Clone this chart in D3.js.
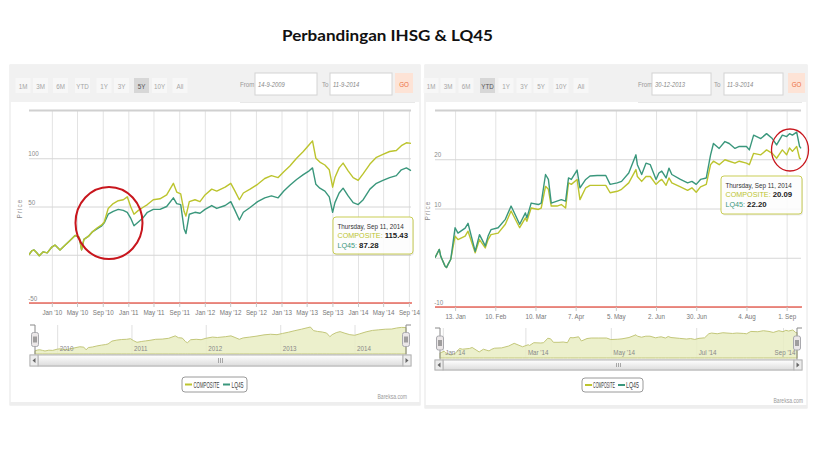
<!DOCTYPE html>
<html><head><meta charset="utf-8">
<script src="https://cdn.jsdelivr.net/npm/d3@7"></script>
<style>
html,body{margin:0;padding:0;background:#fff;}
svg{display:block;font-family:"Liberation Sans",Arial,sans-serif;}
</style></head><body>
<svg id="chart" width="830" height="456"></svg>
<script>
const titleText = "Perbandingan IHSG & LQ45";
const seriesNames = ["COMPOSITE", "LQ45"];
const rangeButtons = ["1M","3M","6M","YTD","1Y","3Y","5Y","10Y","All"];
const creditText = "Bareksa.com";

// ---------- Left chart (5Y) ----------
const leftDates = ["2009-09-14","2009-09-27","2009-10-08","2009-10-21","2009-11-02","2009-11-21","2009-12-10","2010-01-01","2010-01-16","2010-02-09","2010-03-01","2010-03-25","2010-04-22","2010-05-12","2010-05-23","2010-06-03","2010-06-24","2010-07-15","2010-08-06","2010-08-27","2010-09-08","2010-09-27","2010-10-21","2010-11-14","2010-12-08","2010-12-27","2011-01-12","2011-01-28","2011-02-18","2011-03-11","2011-04-02","2011-04-30","2011-06-01","2011-07-03","2011-08-04","2011-08-20","2011-09-08","2011-09-24","2011-10-03","2011-10-19","2011-11-15","2011-12-09","2012-01-02","2012-02-03","2012-02-27","2012-04-07","2012-05-04","2012-05-24","2012-06-14","2012-07-03","2012-08-04","2012-09-09","2012-10-13","2012-11-14","2012-12-16","2013-01-12","2013-02-10","2013-03-14","2013-04-15","2013-05-13","2013-05-29","2013-06-14","2013-07-03","2013-07-27","2013-08-17","2013-09-02","2013-09-13","2013-10-03","2013-10-22","2013-11-15","2013-12-09","2014-01-02","2014-01-26","2014-02-27","2014-03-30","2014-04-30","2014-06-01","2014-07-03","2014-07-27","2014-08-20","2014-09-11"];
const leftComposite = [0,4,5,2,-1,3,2,8,10,5,9,14,20,18,5,16,19,24,28,31,34,48,53,56,57,60,50,42,46,49,52,57,58,62,74,65,63,45,40,55,57,55,62,68,66,70,74,66,57,64,68,73,79,82,80,86,92,100,107,114,118,100,96,93,88,70,80,90,95,87,80,77,84,94,101,104,107,108,113,116,115.43];
const leftLQ45 = [0,4,5,2,-1,3,2,8,10,5,9,14,20,18,5,16,19,24,27,30,33,42,45,47,46,44,38,30,34,38,44,47,47,50,59,53,52,27,22,42,44,43,47,51,48,51,55,46,36,44,49,55,59,61,59,66,72,78,83,87,90,73,69,66,60,44,54,64,69,61,54,52,57,68,74,77,80,82,88,90,87.28];
const leftYTicks = [150, 100, 50, 0, -50];
const leftYLabels = ["", "100", "50", "", "-50"];
const leftXTicks = ["2010-01-01","2010-05-01","2010-09-01","2011-01-01","2011-05-01","2011-09-01","2012-01-01","2012-05-01","2012-09-01","2013-01-01","2013-05-01","2013-09-01","2014-01-01","2014-05-01","2014-09-01"];
const leftXLabels = ["Jan '10","May '10","Sep '10","Jan '11","May '11","Sep '11","Jan '12","May '12","Sep '12","Jan '13","May '13","Sep '13","Jan '14","May '14","Sep '14"];
const leftNavTicks = ["2010-01-01","2011-01-01","2012-01-01","2013-01-01","2014-01-01"];
const leftNavLabels = ["2010","2011","2012","2013","2014"];
const leftInputs = ["14-9-2009", "11-9-2014"];

// ---------- Right chart (YTD) ----------
const rightDates = ["2013-12-30","2014-01-02","2014-01-03","2014-01-06","2014-01-07","2014-01-08","2014-01-10","2014-01-13","2014-01-15","2014-01-20","2014-01-22","2014-01-27","2014-01-30","2014-02-03","2014-02-05","2014-02-07","2014-02-12","2014-02-17","2014-02-21","2014-02-27","2014-03-03","2014-03-04","2014-03-07","2014-03-12","2014-03-14","2014-03-17","2014-03-19","2014-03-21","2014-03-25","2014-03-28","2014-03-31","2014-04-02","2014-04-04","2014-04-08","2014-04-10","2014-04-14","2014-04-17","2014-04-22","2014-04-28","2014-05-01","2014-05-06","2014-05-09","2014-05-14","2014-05-19","2014-05-20","2014-05-23","2014-05-26","2014-05-29","2014-06-02","2014-06-04","2014-06-06","2014-06-09","2014-06-11","2014-06-13","2014-06-19","2014-06-24","2014-06-27","2014-06-30","2014-07-03","2014-07-07","2014-07-10","2014-07-12","2014-07-16","2014-07-20","2014-07-23","2014-07-27","2014-07-30","2014-08-04","2014-08-06","2014-08-09","2014-08-14","2014-08-18","2014-08-22","2014-08-25","2014-08-29","2014-09-01","2014-09-03","2014-09-05","2014-09-08","2014-09-10","2014-09-11"];
const rightComposite = [0,1.7,0.3,-1.7,-2,-1.4,-0.3,4.4,3.7,4.4,5.4,1,3.7,2,3.7,4.7,5,6.8,9.5,6.1,8.1,7.4,10.1,9.8,10.1,14.5,13.9,10.5,10.5,10.8,10.1,15.2,14.9,15.9,11.8,14.2,14.7,14.7,14.7,13.2,13.5,13.9,15.2,17.9,16.5,15.5,16.5,16.5,14.9,15.5,15.9,14.7,16.2,15.2,14.4,13.7,14.2,13.3,14.4,14.9,18.9,19.6,18.9,19.9,19.6,19.2,19.6,19.2,18.9,21.2,20.9,21.9,21.2,20.2,21.9,20.9,22.3,21.6,22.6,20.2,20.09];
const rightLQ45 = [0,1.7,0.3,-1.7,-2,-1.4,-0.3,6.1,5,6,7,1.3,4.7,2.4,4.4,5.7,6.1,7.8,10.5,6.8,9.1,8.1,11.1,10.8,11.1,16.9,15.9,11.1,11.5,11.8,11.5,16.2,15.9,17.8,14.2,15.9,16.6,16.7,16.7,14.9,15.2,15.5,17.2,20.9,18.9,16.9,19.2,18.9,15.9,17.2,17.6,16.2,18.2,16.9,15.9,15.2,15.5,14.9,15.9,16.2,20.9,23.2,22.2,23.6,23.2,22.2,22.6,22.6,21.9,24.9,24.2,25.2,24.2,22.9,24.9,24.6,25.2,24.9,25.5,22.6,22.2];
const rightYTicks = [30, 20, 10, 0, -10];
const rightYLabels = ["", "20", "10", "", "-10"];
const rightXTicks = ["2014-01-13","2014-02-10","2014-03-10","2014-04-07","2014-05-05","2014-06-02","2014-06-30","2014-08-04","2014-09-01"];
const rightXLabels = ["13. Jan","10. Feb","10. Mar","7. Apr","5. May","2. Jun","30. Jun","4. Aug","1. Sep"];
const rightNavTicks = ["2014-01-01","2014-03-01","2014-05-01","2014-07-01","2014-09-01"];
const rightNavLabels = ["Jan '14","Mar '14","May '14","Jul '14","Sep '14"];
const rightInputs = ["30-12-2013", "11-9-2014"];

const tooltipDate = "Thursday, Sep 11, 2014";

const COL_COMP = "#bcc42e", COL_LQ = "#3a977c", COL_AXIS = "#e9685d", COL_CIRCLE = "#c8161d";
const NARROW = 0.78;
const parse = d3.timeParse("%Y-%m-%d");
const fmt2 = d3.format(".2f");
const svg = d3.select("#chart");
const defs = svg.append("defs");

// condensed text: scaled horizontally around its anchor point
function ntext(parent, x, y, str, size, fill, anchor) {
  const gg = parent.append("g").attr("transform", `translate(${x},${y}) scale(${NARROW},1)`);
  return gg.append("text").attr("font-size", size).attr("fill", fill).attr("text-anchor", anchor || "start").text(str);
}
// text squeezed to a target width
function fitText(parent, x, y, str, size, fill, width) {
  const gg = parent.append("g");
  const t = gg.append("text").attr("font-size", size).attr("fill", fill).text(str);
  const w = t.node().getComputedTextLength() || width;
  gg.attr("transform", `translate(${x},${y}) scale(${width / w},1)`);
  return t;
}

svg.append("text").attr("x", 387.5).attr("y", 41).attr("text-anchor", "middle")
  .attr("font-family", "Lato, 'Open Sans', sans-serif").attr("font-weight", "bold")
  .attr("font-size", 16).attr("fill", "#111").attr("textLength", 211).attr("lengthAdjust", "spacingAndGlyphs")
  .text(titleText);

function drawPanel(p) {
  const g = svg.append("g");
  const [px, py, pw, ph] = p.panel;
  g.append("rect").attr("x", px).attr("y", py).attr("width", pw).attr("height", ph)
    .attr("fill", "#fff").attr("stroke", "#e6e6e6");
  g.append("rect").attr("x", px).attr("y", py + ph - 3).attr("width", pw).attr("height", 3).attr("fill", "#eeeeee");
  // toolbar
  g.append("rect").attr("x", px).attr("y", py).attr("width", pw).attr("height", p.toolbarH).attr("fill", "#f1f1f1");
  p.buttonX.forEach((cx, i) => {
    const sel = i === p.selected;
    g.append("rect").attr("x", cx - 7.5).attr("y", 78).attr("width", 15).attr("height", 15)
      .attr("fill", sel ? "#d7d7d7" : "#f7f7f7");
    ntext(g, cx, 88.5, rangeButtons[i], 8, sel ? "#555" : "#a5a5a5", "middle");
  });
  // inputs
  ntext(g, p.from.lx, 87, "From", 8, "#999");
  g.append("rect").attr("x", p.from.x).attr("y", 73).attr("width", p.from.w).attr("height", 22).attr("fill", "#fff").attr("stroke", "#d4d4d4");
  ntext(g, p.from.x + 3, 87, p.inputs[0], 7.5, "#888").attr("font-style", "italic");
  ntext(g, p.to.lx, 87, "To", 8, "#999");
  g.append("rect").attr("x", p.to.x).attr("y", 73).attr("width", p.to.w).attr("height", 22).attr("fill", "#fff").attr("stroke", "#d4d4d4");
  ntext(g, p.to.x + 3, 87, p.inputs[1], 7.5, "#888").attr("font-style", "italic");
  g.append("rect").attr("x", p.go.x).attr("y", 73).attr("width", p.go.w).attr("height", 20).attr("fill", "#fde3d6");
  ntext(g, p.go.x + p.go.w / 2, 87, "GO", 8, "#ec6f3f", "middle");
  g.append("line").attr("x1", p.from.lx).attr("x2", px + pw - 5).attr("y1", 102.5).attr("y2", 102.5).attr("stroke", "#e8e8e8");

  // scales
  const dates = p.dates.map(parse);
  const pl = p.plot;
  const x = d3.scaleTime().domain([dates[0], dates[dates.length - 1]]).range([pl.x0, pl.x1]);
  const y = d3.scaleLinear().domain([p.yTicks[p.yTicks.length - 1], p.yTicks[0]]).range([pl.y1, pl.y0]);
  const xt = p.xTicks.map(parse);

  // vertical grid
  g.append("g").attr("transform", `translate(0,${pl.y1})`)
    .call(d3.axisBottom(x).tickValues(xt).tickSize(-(pl.y1 - pl.y0)).tickFormat(""))
    .call(a => { a.select(".domain").remove(); a.selectAll("line").attr("stroke", "#e3e3e3"); });
  // horizontal grid + y labels
  const ya = g.append("g").attr("transform", `translate(${pl.x0},0)`)
    .call(d3.axisLeft(y).tickValues(p.yTicks).tickSize(-(pl.x1 - pl.x0)).tickFormat((d, i) => p.yLabels[i]));
  ya.select(".domain").remove();
  ya.selectAll(".tick line").attr("stroke", (d, i) => i === 0 ? "#d0d0d0" : "#d6d6d6").attr("stroke-width", (d, i) => i === 0 ? 2 : 1);
  ya.selectAll(".tick text").attr("x", -1).attr("dy", "-0.3em").attr("text-anchor", "start")
    .attr("transform", `scale(${NARROW},1)`).attr("font-size", 8).attr("fill", "#8a8a8a").attr("font-family", null);
  // y title
  g.append("text").attr("transform", `translate(${p.yTitleX},${(pl.y0 + pl.y1) / 2 + 2}) rotate(-90)`)
    .attr("text-anchor", "middle").attr("font-size", 6.5).attr("letter-spacing", 1).attr("fill", "#888").text("Price");

  // series
  const clipId = "clip" + p.id;
  defs.append("clipPath").attr("id", clipId).append("rect").attr("x", pl.x0).attr("y", pl.y0 - 2).attr("width", pl.x1 - pl.x0 + 2).attr("height", pl.y1 - pl.y0 + 2);
  const line = vals => d3.line().x((d, i) => x(dates[i])).y(d => y(d))(vals);
  const order = p.lqOnTop ? [[p.comp, COL_COMP], [p.lq, COL_LQ]] : [[p.lq, COL_LQ], [p.comp, COL_COMP]];
  order.forEach(([vals, col]) => {
    g.append("path").attr("clip-path", `url(#${clipId})`).attr("d", line(vals))
      .attr("fill", "none").attr("stroke", col).attr("stroke-width", 1.4).attr("stroke-linejoin", "round");
  });

  // x axis
  const xa = g.append("g").attr("transform", `translate(0,${pl.y1})`)
    .call(d3.axisBottom(x).tickValues(xt).tickSize(4).tickPadding(2).tickFormat((d, i) => p.xLabels[i]));
  xa.select(".domain").attr("stroke", COL_AXIS).attr("stroke-width", 1.5).attr("d", `M${pl.x0},0H${pl.x1 + 1}`);
  xa.selectAll(".tick line").attr("stroke", "#c8c8c8");
  xa.selectAll(".tick text").attr("transform", `scale(${NARROW},1)`).attr("font-size", 8).attr("fill", "#777").attr("font-family", null);

  // navigator
  const nv = p.nav;
  const nx = d3.scaleTime().domain(x.domain()).range([nv.x0, nv.x1]);
  const ny = d3.scaleLinear().domain(d3.extent(p.comp)).range([nv.y1 - 3, nv.y0 + 2]);
  const navAxis = d3.axisBottom(nx).tickValues(p.navTicks.map(parse)).tickSize(nv.y1 - nv.y0).tickFormat((d, i) => p.navLabels[i]);
  const ngrid = g.append("g").attr("transform", `translate(0,${nv.y0})`).call(navAxis.tickFormat(""));
  ngrid.select(".domain").remove();
  ngrid.selectAll(".tick line").attr("stroke", "#e0e0e0");
  g.append("path").attr("d", d3.area().x((d, i) => nx(dates[i])).y0(nv.y1).y1(d => ny(d))(p.comp))
    .attr("fill", "#e9edc3").attr("fill-opacity", 0.85).attr("stroke", "#c3c77a").attr("stroke-width", 1);
  // navigator labels (above area)
  const nlab = g.append("g").attr("transform", `translate(0,${nv.y0})`)
    .call(d3.axisBottom(nx).tickValues(p.navTicks.map(parse)).tickSize(0).tickFormat((d, i) => p.navLabels[i]));
  nlab.select(".domain").remove();
  nlab.selectAll(".tick text").each(function (d, i) {
    const t = d3.select(this);
    const tx = nx(d);
    const w = p.navLabels[i].length * 3.3;
    const over = tx + 2 + w > nv.x1;
    t.attr("font-family", null).attr("text-anchor", over ? "end" : "start")
      .attr("x", over ? (nv.x1 - 2 - tx) / NARROW : 2 / NARROW).attr("y", nv.y1 - nv.y0 - 3).attr("dy", 0)
      .attr("transform", `scale(${NARROW},1)`).attr("font-size", 8).attr("fill", "#888");
  });
  // navigator outline + handles
  g.append("path").attr("d", `M${nv.x0 - 5},${nv.y0}H${nv.x0}V${p.scroll.y1}M${nv.x1 + 5},${nv.y0}H${nv.x1}V${p.scroll.y1}`)
    .attr("fill", "none").attr("stroke", "#8a8a8a").attr("stroke-width", 1);
  [nv.x0, nv.x1].forEach(hx => {
    const hy = (nv.y0 + nv.y1) / 2 - 7;
    g.append("rect").attr("x", hx - 3.5).attr("y", hy).attr("width", 7).attr("height", 14).attr("rx", 2)
      .attr("fill", "#ebe7e8").attr("stroke", "#a9a9ae");
    [-1, 1].forEach(o => g.append("line").attr("x1", hx + o).attr("x2", hx + o).attr("y1", hy + 4).attr("y2", hy + 10).attr("stroke", "#555"));
  });
  // scrollbar
  const sc = p.scroll;
  g.append("rect").attr("x", sc.x0).attr("y", sc.y0).attr("width", sc.x1 - sc.x0).attr("height", sc.y1 - sc.y0)
    .attr("fill", "#eeeeee").attr("stroke", "#cfcfcf");
  const grad = defs.append("linearGradient").attr("id", "sg" + p.id).attr("x1", 0).attr("x2", 0).attr("y1", 0).attr("y2", 1);
  grad.append("stop").attr("offset", 0).attr("stop-color", "#ffffff");
  grad.append("stop").attr("offset", 1).attr("stop-color", "#dcdcdc");
  g.append("rect").attr("x", sc.x0 + 8).attr("y", sc.y0).attr("width", sc.x1 - sc.x0 - 16).attr("height", sc.y1 - sc.y0)
    .attr("fill", `url(#sg${p.id})`).attr("stroke", "#b5b5b5");
  [sc.x0, sc.x1 - 8].forEach((bx, i) => {
    g.append("rect").attr("x", bx).attr("y", sc.y0).attr("width", 8).attr("height", sc.y1 - sc.y0).attr("fill", "#ececec").attr("stroke", "#b5b5b5");
    const cy = (sc.y0 + sc.y1) / 2;
    const tx = bx + 4;
    g.append("path").attr("d", i === 0 ? `M${tx + 1.5},${cy - 2.5}L${tx - 1.5},${cy}L${tx + 1.5},${cy + 2.5}Z` : `M${tx - 1.5},${cy - 2.5}L${tx + 1.5},${cy}L${tx - 1.5},${cy + 2.5}Z`)
      .attr("fill", "#666");
  });
  const mx = (sc.x0 + sc.x1) / 2;
  [-2, 0, 2].forEach(o => g.append("line").attr("x1", mx + o).attr("x2", mx + o).attr("y1", sc.y0 + 3).attr("y2", sc.y1 - 3).attr("stroke", "#888").attr("stroke-width", 0.7));

  // legend
  const lg = p.legend;
  g.append("rect").attr("x", lg.x).attr("y", lg.y).attr("width", lg.w).attr("height", lg.h).attr("rx", 3)
    .attr("fill", "#fff").attr("stroke", "#9a9a9a");
  const ly = lg.y + lg.h / 2;
  lg.items.forEach((it, i) => {
    g.append("line").attr("x1", it.sx).attr("x2", it.sx + 7).attr("y1", ly).attr("y2", ly)
      .attr("stroke", i === 0 ? COL_COMP : COL_LQ).attr("stroke-width", 2);
    fitText(g, it.tx, ly + 3, seriesNames[i], 8.5, "#444", it.tw);
  });
  // credits
  ntext(g, p.credit[0], p.credit[1], creditText, 6.5, "#9a9a9a", "end");

  // tooltip
  const tt = p.tooltip;
  g.append("rect").attr("x", tt.x + 1).attr("y", tt.y + 1.5).attr("width", tt.w).attr("height", tt.h).attr("rx", 3).attr("fill", "#000").attr("opacity", 0.08);
  g.append("rect").attr("x", tt.x).attr("y", tt.y).attr("width", tt.w).attr("height", tt.h).attr("rx", 3)
    .attr("fill", "#fff").attr("fill-opacity", 0.88).attr("stroke", "#c9cd55").attr("stroke-width", 1);
  g.append("text").attr("x", tt.x + 4.5).attr("y", tt.y + 11.5).attr("font-size", 6.3).attr("fill", "#333").text(tooltipDate);
  const t2 = g.append("text").attr("x", tt.x + 4.5).attr("y", tt.y + 21).attr("font-size", 7.2);
  t2.append("tspan").attr("fill", COL_COMP).text(seriesNames[0] + ": ");
  t2.append("tspan").attr("fill", "#222").attr("font-weight", "bold").attr("font-size", 7.8).text(fmt2(p.comp[p.comp.length - 1]));
  const t3 = g.append("text").attr("x", tt.x + 4.5).attr("y", tt.y + 30.5).attr("font-size", 7.2);
  t3.append("tspan").attr("fill", COL_LQ).text(seriesNames[1] + ": ");
  t3.append("tspan").attr("fill", "#222").attr("font-weight", "bold").attr("font-size", 7.8).text(fmt2(p.lq[p.lq.length - 1]));

  // highlight circle
  const c = p.circle;
  g.append("ellipse").attr("cx", c.cx).attr("cy", c.cy).attr("rx", c.rx).attr("ry", c.ry)
    .attr("fill", "none").attr("stroke", COL_CIRCLE).attr("stroke-width", c.sw);
}

drawPanel({
  id: "L", panel: [10, 65, 410, 340], toolbarH: 37,
  buttonX: [23, 40.5, 60.5, 82.5, 104, 121.5, 141.5, 159.5, 180], selected: 6,
  from: { lx: 240, x: 255, w: 62 }, to: { lx: 322, x: 330, w: 62 }, go: { x: 395, w: 18 }, inputs: leftInputs,
  dates: leftDates, comp: leftComposite, lq: leftLQ45, lqOnTop: false,
  yTicks: leftYTicks, yLabels: leftYLabels, xTicks: leftXTicks, xLabels: leftXLabels,
  navTicks: leftNavTicks, navLabels: leftNavLabels,
  plot: { x0: 29, x1: 411, y0: 110, y1: 303 }, yTitleX: 22,
  nav: { x0: 35, x1: 406, y0: 325, y1: 354 }, scroll: { x0: 30, x1: 411, y0: 355, y1: 366 },
  legend: { x: 182, y: 377, w: 65, h: 15, items: [{ sx: 185, tx: 193.5, tw: 26 }, { sx: 223, tx: 231.5, tw: 12 }] },
  credit: [407, 399],
  tooltip: { x: 333, y: 217, w: 80, h: 37 },
  circle: { cx: 109, cy: 223, rx: 33.5, ry: 36, sw: 2 }
});

drawPanel({
  id: "R", panel: [425, 65, 382, 343], toolbarH: 37,
  buttonX: [431, 448, 466, 487.5, 506, 524, 541, 561, 581], selected: 3,
  from: { lx: 638, x: 652, w: 59 }, to: { lx: 714, x: 724, w: 59 }, go: { x: 788, w: 17 }, inputs: rightInputs,
  dates: rightDates, comp: rightComposite, lq: rightLQ45, lqOnTop: true,
  yTicks: rightYTicks, yLabels: rightYLabels, xTicks: rightXTicks, xLabels: rightXLabels,
  navTicks: rightNavTicks, navLabels: rightNavLabels,
  plot: { x0: 435, x1: 801, y0: 110, y1: 307 }, yTitleX: 430,
  nav: { x0: 440, x1: 797, y0: 328, y1: 358 }, scroll: { x0: 435, x1: 802, y0: 360, y1: 370 },
  legend: { x: 582, y: 378, w: 61, h: 14, items: [{ sx: 585, tx: 593, tw: 22 }, { sx: 618, tx: 626, tw: 13 }] },
  credit: [803, 403],
  tooltip: { x: 721, y: 176, w: 81, h: 38 },
  circle: { cx: 790, cy: 150, rx: 18.5, ry: 21, sw: 1.3 }
});
</script>
</body></html>
